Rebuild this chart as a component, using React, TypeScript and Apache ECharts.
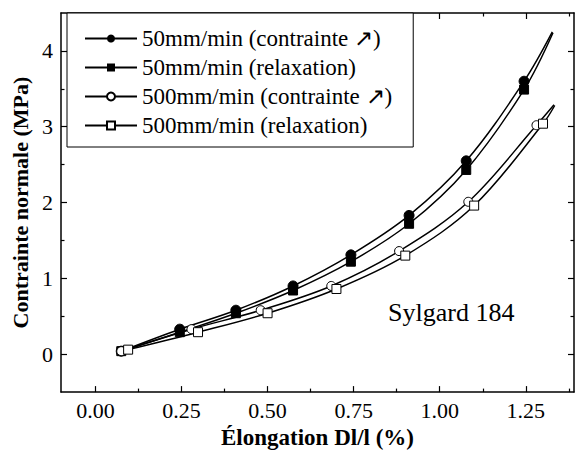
import React, { useEffect, useRef } from "react";
import * as echarts from "echarts";

// Elongation (%) and normal stress (MPa)
const x50c = [0.075, 0.245, 0.408, 0.574, 0.742, 0.911, 1.077, 1.245];
const y50c = [0.04, 0.33, 0.58, 0.9, 1.31, 1.83, 2.55, 3.6];
const end50c = [1.327, 4.25];

const x50r = [0.075, 0.245, 0.408, 0.574, 0.742, 0.911, 1.077, 1.245];
const y50r = [0.04, 0.29, 0.54, 0.84, 1.22, 1.72, 2.43, 3.49];
const end50r = [1.329, 4.24];

const x500c = [0.075, 0.279, 0.48, 0.685, 0.882, 1.083, 1.281];
const y500c = [0.04, 0.33, 0.58, 0.9, 1.36, 2.01, 3.02];
const end500c = [1.332, 3.29];

const x500r = [0.095, 0.298, 0.5, 0.7, 0.9, 1.1, 1.3];
const y500r = [0.06, 0.29, 0.54, 0.86, 1.3, 1.96, 3.04];
const end500r = [1.334, 3.28];

const seriesNames = [
  "50mm/min (contrainte ↗)",
  "50mm/min (relaxation)",
  "500mm/min (contrainte ↗)",
  "500mm/min (relaxation)",
];

const xMajor = [0, 0.25, 0.5, 0.75, 1.0, 1.25];
const xMinor = [0.125, 0.375, 0.625, 0.875, 1.125, 1.375];
const yMajor = [0, 1, 2, 3, 4];
const yMinor = [0.5, 1.5, 2.5, 3.5];

const FONT = "Liberation Serif";

function buildData(xs: number[], ys: number[], end: number[]) {
  const d: any[] = xs.map((x, i) => [x, ys[i]]);
  d.push({ value: end, symbol: "none" });
  return d;
}

export default function App() {
  const ref = useRef<HTMLDivElement>(null);
  useEffect(() => {
    if (!ref.current) return;
    const chart = echarts.init(ref.current, undefined, { renderer: "svg" });
    const axisLine = { show: true, onZero: false, lineStyle: { color: "#000", width: 1.5 } };
    const noLine = { show: false, onZero: false };
    const mkX = (pos: string, vals: number[], len: number, labels: boolean, line: boolean, extra: any = {}) => ({
      type: "value",
      position: pos,
      min: -0.1,
      max: 1.39,
      splitLine: { show: false },
      axisLine: line ? axisLine : noLine,
      axisTick: { show: true, inside: true, length: len, customValues: vals, lineStyle: { color: "#000", width: 1.2 } },
      axisLabel: labels
        ? { show: true, customValues: vals, formatter: (v: number) => v.toFixed(2), fontFamily: FONT, fontSize: 22, color: "#000", margin: 7 }
        : { show: false },
      ...extra,
    });
    const mkY = (pos: string, vals: number[], len: number, labels: boolean, line: boolean, extra: any = {}) => ({
      type: "value",
      position: pos,
      min: -0.5,
      max: 4.5,
      splitLine: { show: false },
      axisLine: line ? axisLine : noLine,
      axisTick: { show: true, inside: true, length: len, customValues: vals, lineStyle: { color: "#000", width: 1.2 } },
      axisLabel: labels
        ? { show: true, customValues: vals, formatter: (v: number) => String(v), fontFamily: FONT, fontSize: 22, color: "#000", margin: 8 }
        : { show: false },
      ...extra,
    });

    const common = {
      type: "line",
      smooth: 0.35,
      symbolSize: 9,
      lineStyle: { color: "#000", width: 1.5 },
      xAxisIndex: 0,
      yAxisIndex: 0,
    };

    chart.setOption({
      animation: false,
      backgroundColor: "#fff",
      grid: { left: 61, right: 2, top: 13, bottom: 57, containLabel: false },
      xAxis: [
        mkX("bottom", xMajor, 6, true, true, {
          name: "Élongation Dl/l (%)",
          nameLocation: "middle",
          nameGap: 30,
          nameTextStyle: { fontFamily: FONT, fontSize: 23, fontWeight: "bold", color: "#000" },
        }),
        mkX("bottom", xMinor, 3.5, false, false),
        mkX("top", xMajor, 6, false, true),
        mkX("top", xMinor, 3.5, false, false),
      ],
      yAxis: [
        mkY("left", yMajor, 6, true, true, {
          name: "Contrainte normale (MPa)",
          nameLocation: "middle",
          nameGap: 28,
          nameRotate: 90,
          nameTextStyle: { fontFamily: FONT, fontSize: 22, fontWeight: "bold", color: "#000" },
        }),
        mkY("left", yMinor, 3.5, false, false),
        mkY("right", yMajor, 6, false, true),
        mkY("right", yMinor, 3.5, false, false),
      ],
      legend: {
        left: 67,
        top: 13,
        orient: "vertical",
        itemWidth: 52,
        itemHeight: 10,
        itemGap: 0,
        padding: [11, 21, 7, 17],
        borderColor: "#000",
        borderWidth: 1,
        backgroundColor: "#fff",
        textStyle: { fontFamily: FONT, fontSize: 23, color: "#000", lineHeight: 29 },
        data: seriesNames,
      },
      graphic: [
        {
          type: "text",
          left: 388,
          top: 299,
          style: { text: "Sylgard 184", fontFamily: FONT, fontSize: 26, fill: "#000" },
        },
      ],
      series: [
        {
          ...common,
          name: seriesNames[0],
          symbol: "circle",
          symbolSize: 10,
          itemStyle: { color: "#000", borderColor: "#000" },
          data: buildData(x50c, y50c, end50c),
        },
        {
          ...common,
          name: seriesNames[1],
          symbol: "rect",
          symbolSize: 9,
          itemStyle: { color: "#000", borderColor: "#000" },
          data: buildData(x50r, y50r, end50r),
        },
        {
          ...common,
          name: seriesNames[2],
          symbol: "circle",
          symbolSize: 9,
          itemStyle: { color: "#fff", borderColor: "#000", borderWidth: 1 },
          data: buildData(x500c, y500c, end500c),
        },
        {
          ...common,
          name: seriesNames[3],
          symbol: "rect",
          symbolSize: 9,
          itemStyle: { color: "#fff", borderColor: "#000", borderWidth: 1 },
          data: buildData(x500r, y500r, end500r),
        },
      ],
    });
    return () => chart.dispose();
  }, []);
  return (
    <div
      ref={ref}
      style={{ position: "fixed", left: 0, top: 0, width: 576, height: 454, background: "#fff" }}
    />
  );
}
